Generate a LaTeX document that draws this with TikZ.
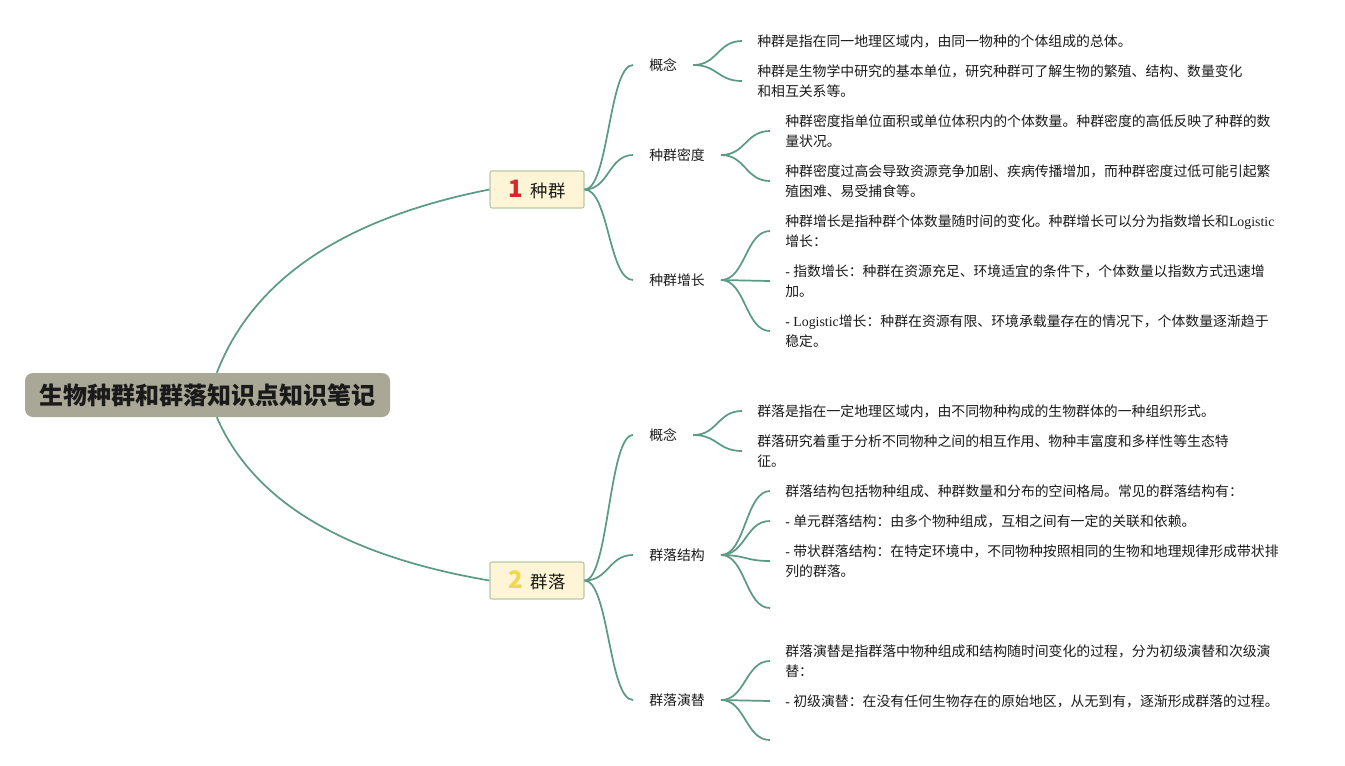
\documentclass[tikz,border=0pt]{standalone}
\usepackage{xcolor}
\usepackage{fontspec}
\setmainfont{Noto Sans CJK SC}
\newfontfamily\latinfont{Liberation Serif}
\usepackage{tikz}
\usetikzlibrary{calc}

\definecolor{linegreen}{HTML}{5B9A86}
\definecolor{titlegray}{HTML}{A9A796}
\definecolor{boxfill}{HTML}{FDF5D5}
\definecolor{boxline}{HTML}{B8C9A5}
\definecolor{numred}{HTML}{D9262C}
\definecolor{numyellow}{HTML}{F2D64B}
\definecolor{textdark}{HTML}{1A1A1A}

\newcommand{\rmlat}[1]{{\latinfont #1}}

\begin{document}
\begin{tikzpicture}[
    x=0.75pt, y=-0.75pt,
    every node/.style={text=textdark},
    central/.style={
        rectangle,
        rounded corners=6pt,
        fill=titlegray,
        minimum width=273.75pt,
        minimum height=33pt,
        font=\fontsize{18}{20}\selectfont\bfseries
    },
    maintopic/.style={
        rectangle,
        rounded corners=1.5pt,
        draw=boxline,
        line width=0.8pt,
        fill=boxfill,
        minimum width=70.5pt,
        minimum height=27.75pt,
        font=\fontsize{13}{15}\selectfont
    },
    subtopic/.style={
        anchor=west,
        inner xsep=12pt,
        inner ysep=2pt,
        font=\fontsize{10.4}{15}\selectfont
    },
    leaf/.style={
        anchor=west,
        align=left,
        inner xsep=11.25pt,
        inner ysep=0pt,
        font=\fontsize{10.4}{15}\selectfont
    },
    mainline/.style={draw=linegreen, line width=1.3pt},
    branch/.style={
        draw=linegreen,
        line width=1.3pt,
        to path={let \p1=(\tikztostart), \p2=(\tikztotarget) in
            .. controls ({0.5*\x1+0.5*\x2},\y1) and ({0.5*\x1+0.5*\x2},\y2)
            .. (\tikztotarget) \tikztonodes}
    }
]
\useasboundingbox (0,0) rectangle (1345,765);

% central topic and main branches
\node[central] (title) at (207.5,395) {生物种群和群落知识点知识笔记};

\node[maintopic] (pop) at (537,189.5)
{\textcolor{numred}{\fontsize{18}{18}\selectfont\bfseries 1}\hspace{0.45em}种群};
\node[maintopic] (comm) at (537,580.5)
{\textcolor{numyellow}{\fontsize{18}{18}\selectfont\bfseries 2}\hspace{0.45em}群落};

\draw[mainline] ([xshift=7pt]title.north) .. controls +(36,-93) and +(-147,29) .. (pop.west);
\draw[mainline] ([xshift=7pt]title.south) .. controls +(36,83) and +(-147,-25) .. (comm.west);

% population subtopics
\node[subtopic] (popdef) at (633,65) {概念};
\node[subtopic] (popdens) at (633,155) {种群密度};
\node[subtopic] (popgrow) at (633,280) {种群增长};

\node[leaf] (popdefa) at (742,41)
{种群是指在同一地理区域内，由同一物种的个体组成的总体。};
\node[leaf] (popdefb) at (742,81)
{种群是生物学中研究的基本单位，研究种群可了解生物的繁殖、结构、数量变化\\和相互关系等。};

\node[leaf] (popdensa) at (770,131)
{种群密度指单位面积或单位体积内的个体数量。种群密度的高低反映了种群的数\\量状况。};
\node[leaf] (popdensb) at (770,181)
{种群密度过高会导致资源竞争加剧、疾病传播增加，而种群密度过低可能引起繁\\殖困难、易受捕食等。};

\node[leaf] (popgrowa) at (770,231)
{种群增长是指种群个体数量随时间的变化。种群增长可以分为指数增长和\rmlat{Logistic}\\增长：};
\node[leaf] (popgrowb) at (770,281)
{\rmlat{- }指数增长：种群在资源充足、环境适宜的条件下，个体数量以指数方式迅速增\\加。};
\node[leaf] (popgrowc) at (770,331)
{\rmlat{- Logistic}增长：种群在资源有限、环境承载量存在的情况下，个体数量逐渐趋于\\稳定。};

% community subtopics
\node[subtopic] (comdef) at (633,435) {概念};
\node[subtopic] (comstruct) at (633,555) {群落结构};
\node[subtopic] (comsucc) at (633,700) {群落演替};

\node[leaf] (comdefa) at (742,411)
{群落是指在一定地理区域内，由不同物种构成的生物群体的一种组织形式。};
\node[leaf] (comdefb) at (742,451)
{群落研究着重于分析不同物种之间的相互作用、物种丰富度和多样性等生态特\\征。};

\node[leaf] (comstructa) at (770,491)
{群落结构包括物种组成、种群数量和分布的空间格局。常见的群落结构有：};
\node[leaf] (comstructb) at (770,521)
{\rmlat{- }单元群落结构：由多个物种组成，互相之间有一定的关联和依赖。};
\node[leaf] (comstructc) at (770,561)
{\rmlat{- }带状群落结构：在特定环境中，不同物种按照相同的生物和地理规律形成带状排\\列的群落。};
\coordinate (comstructd) at (770,608);

\node[leaf] (comsucca) at (770,661)
{群落演替是指群落中物种组成和结构随时间变化的过程，分为初级演替和次级演\\替：};
\node[leaf] (comsuccb) at (770,701)
{\rmlat{- }初级演替：在没有任何生物存在的原始地区，从无到有，逐渐形成群落的过程。};
\coordinate (comsuccc) at (770,740);

% branches
\foreach \s in {popdef,popdens,popgrow}
    \draw[branch] (pop.east) to (\s.west);
\foreach \s in {comdef,comstruct,comsucc}
    \draw[branch] (comm.east) to (\s.west);

\draw[branch] (popdef.east) to (popdefa.west);
\draw[branch] (popdef.east) to (popdefb.west);
\draw[branch] (popdens.east) to (popdensa.west);
\draw[branch] (popdens.east) to (popdensb.west);
\foreach \l in {popgrowa,popgrowb,popgrowc}
    \draw[branch] (popgrow.east) to (\l.west);

\draw[branch] (comdef.east) to (comdefa.west);
\draw[branch] (comdef.east) to (comdefb.west);
\foreach \l in {comstructa,comstructb,comstructc}
    \draw[branch] (comstruct.east) to (\l.west);
\draw[branch] (comstruct.east) to (comstructd);
\foreach \l in {comsucca,comsuccb}
    \draw[branch] (comsucc.east) to (\l.west);
\draw[branch] (comsucc.east) to (comsuccc);

\end{tikzpicture}
\end{document}
